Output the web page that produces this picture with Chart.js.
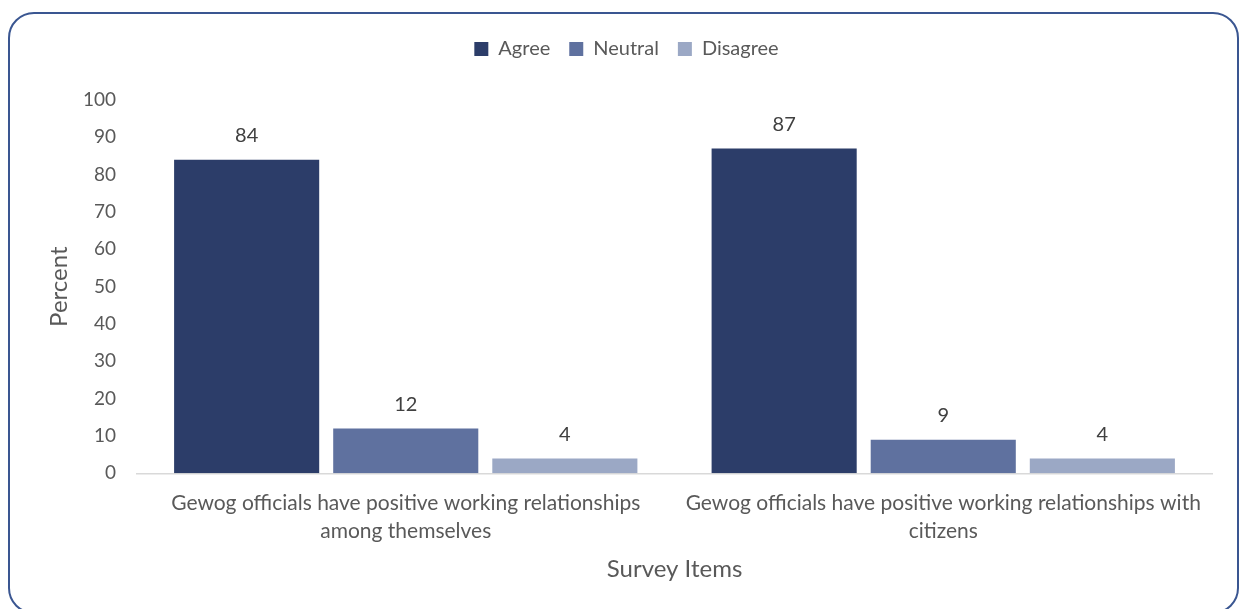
<!DOCTYPE html>
<html>
<head>
<meta charset="utf-8">
<script src="https://cdn.jsdelivr.net/npm/chart.js@4"></script>
<style>
  html, body { margin: 0; padding: 0; background: #fff; overflow: hidden; }
  #wrap { position: relative; width: 1241px; height: 609px; overflow: hidden; }
  #frame {
    position: absolute; left: 8px; top: 12px; width: 1227px; height: 598px;
    border: 2px solid #3a5691; border-radius: 26px; pointer-events: none;
  }
  canvas { position: absolute; left: 0; top: 0; }
</style>
</head>
<body>
<div id="wrap">
  <canvas id="surveyChart" width="1241" height="609"></canvas>
  <div id="frame"></div>
</div>
<script>
const items = [
  ["Gewog officials have positive working relationships", "among themselves"],
  ["Gewog officials have positive working relationships with", "citizens"],
];
const agree = [84, 87];
const neutral = [12, 9];
const disagree = [4, 4];
const yTicks = [0, 10, 20, 30, 40, 50, 60, 70, 80, 90, 100];

const textColor = "#595959";
const fontFamily = "Lato, 'Open Sans', sans-serif";

// Write each bar's value just above it
const valueLabels = {
  id: "valueLabels",
  afterDatasetsDraw(chart) {
    const ctx = chart.ctx;
    ctx.save();
    ctx.fillStyle = "#404040";
    ctx.font = "20px " + fontFamily;
    ctx.textAlign = "center";
    ctx.textBaseline = "middle";
    chart.data.datasets.forEach((ds, i) => {
      chart.getDatasetMeta(i).data.forEach((bar, j) => {
        ctx.fillText(ds.data[j], bar.x, bar.y - 24);
      });
    });
    ctx.restore();
  },
};

// Leave more room under the legend
const legendGap = {
  id: "legendGap",
  beforeInit(chart) {
    const fit = chart.legend.fit;
    chart.legend.fit = function () {
      fit.bind(chart.legend)();
      this.height += 31;
    };
  },
};

const ctx = document.getElementById("surveyChart").getContext("2d");
new Chart(ctx, {
  type: "bar",
  data: {
    labels: items,
    datasets: [
      { label: "Agree", data: agree, backgroundColor: "#2c3d69" },
      { label: "Neutral", data: neutral, backgroundColor: "#5f719f" },
      { label: "Disagree", data: disagree, backgroundColor: "#9ba8c5" },
    ],
  },
  options: {
    responsive: false,
    animation: false,
    categoryPercentage: 0.888,
    barPercentage: 0.912,
    layout: { padding: { left: 41, right: 29, top: 20, bottom: 25 } },
    plugins: {
      legend: {
        position: "top",
        labels: {
          color: textColor,
          font: { family: fontFamily, size: 20 },
          boxWidth: 14,
          boxHeight: 14,
          padding: 19,
        },
      },
      tooltip: { enabled: false },
    },
    scales: {
      x: {
        grid: { display: false, drawTicks: false },
        border: { display: true, color: "#d9d9d9", width: 1.5 },
        ticks: {
          color: textColor,
          font: { family: fontFamily, size: 21, lineHeight: 1.33 },
          padding: 16,
          maxRotation: 0,
        },
        title: {
          display: true,
          text: "Survey Items",
          color: textColor,
          font: { family: fontFamily, size: 24 },
          padding: { top: -6, bottom: 0 },
        },
      },
      y: {
        min: 0,
        max: 100,
        afterBuildTicks: (scale) => {
          scale.ticks = yTicks.map((v) => ({ value: v }));
        },
        afterFit: (scale) => {
          scale.width = 96;
        },
        grid: { display: false, drawTicks: false },
        border: { display: false },
        ticks: {
          color: textColor,
          font: { family: fontFamily, size: 19 },
          padding: 21,
        },
        title: {
          display: true,
          text: "Percent",
          color: textColor,
          font: { family: fontFamily, size: 24 },
          padding: { top: 4, bottom: 0 },
        },
      },
    },
  },
  plugins: [valueLabels, legendGap],
});
</script>
</body>
</html>
